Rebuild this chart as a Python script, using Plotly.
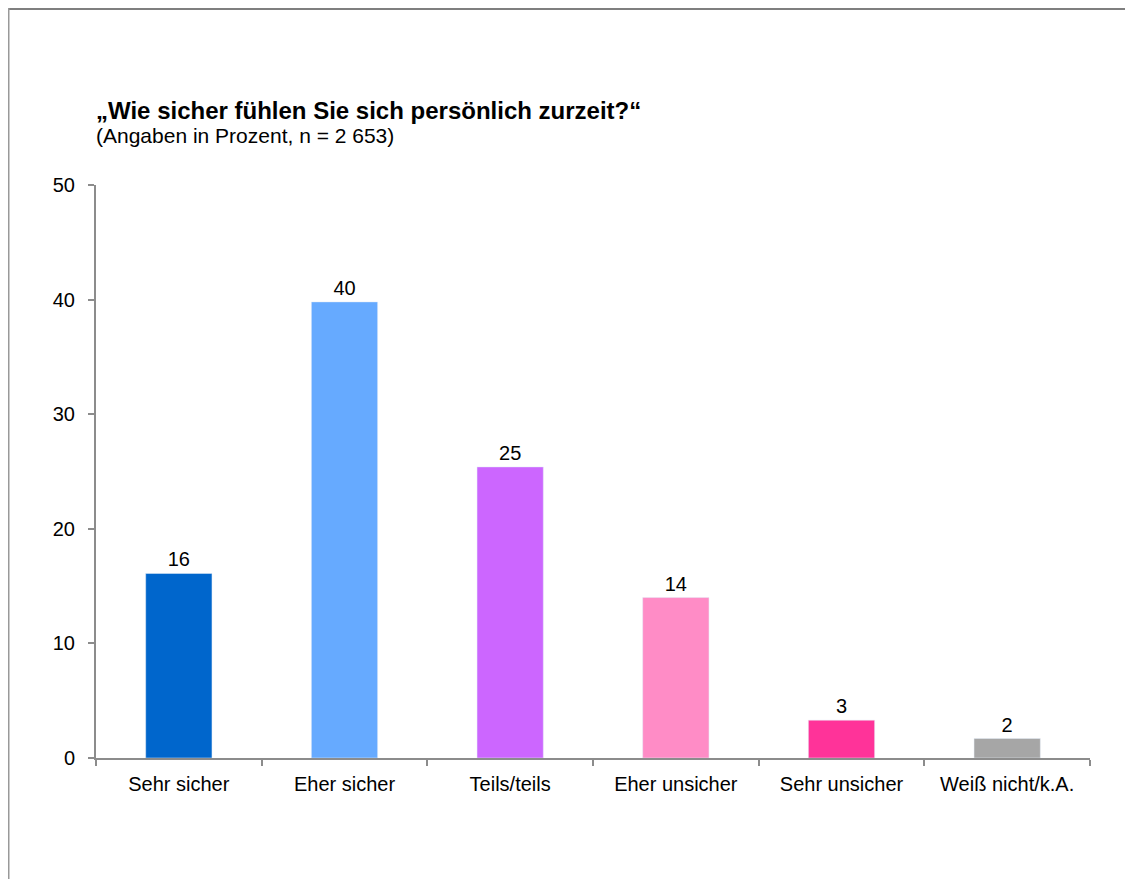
import plotly.graph_objects as go

categories = ["Sehr sicher", "Eher sicher", "Teils/teils", "Eher unsicher", "Sehr unsicher", "Weiß nicht/k.A."]
values = [16.1, 39.8, 25.4, 14.0, 3.3, 1.7]
colors = ["#0066CC", "#66AAFF", "#CC66FF", "#FF8CC6", "#FF3399", "#A6A6A6"]
y_ticks = [0, 10, 20, 30, 40, 50]

W, H = 1133, 879
L, R, T, B = 88, 51, 177, 129
pw, ph = W - L - R, H - T - B

def px(x):
    return (x - L) / pw

def py(y):
    return (H - B - y) / ph

FONT = "Liberation Sans, Arial"

fig = go.Figure(go.Bar(
    x=categories, y=values, marker_color=colors, width=0.4,
    texttemplate="%{y:.0f}", textposition="outside",
    textfont=dict(family=FONT, size=20, color="black"),
    cliponaxis=False,
))

axis_col = "#8C8C8C"
fig.update_layout(
    width=W, height=H,
    margin=dict(l=L, r=R, t=T, b=B),
    paper_bgcolor="white", plot_bgcolor="white",
    showlegend=False,
    font=dict(family=FONT, size=20, color="black"),
    xaxis=dict(
        type="category", tickson="boundaries", ticks="outside", ticklen=6,
        tickcolor=axis_col, tickwidth=1.5,
        showline=True, linecolor=axis_col, linewidth=2, showgrid=False,
        tickfont=dict(size=20), ticklabelstandoff=7,
    ),
    yaxis=dict(
        range=[0, 50], tickvals=y_ticks, ticks="outside", ticklen=6,
        tickcolor=axis_col, tickwidth=1.5,
        showline=True, linecolor=axis_col, linewidth=2, showgrid=False,
        zeroline=False, tickfont=dict(size=20), ticklabelstandoff=9,
    ),
    annotations=[
        dict(text="<b>„Wie sicher fühlen Sie sich persönlich zurzeit?“</b>",
             xref="paper", yref="paper", x=px(86), y=py(103), xanchor="left", yanchor="middle",
             showarrow=False, font=dict(size=24, color="black")),
        dict(text="(Angaben in Prozent, n = 2 653)",
             xref="paper", yref="paper", x=px(86), y=py(128), xanchor="left", yanchor="middle",
             showarrow=False, font=dict(size=21, color="black")),
    ],
    shapes=[
        dict(type="line", xref="paper", yref="paper", x0=px(0), x1=px(W + 5), y0=py(1), y1=py(1),
             line=dict(color="#555555", width=1.5)),
        dict(type="line", xref="paper", yref="paper", x0=px(0.75), x1=px(0.75), y0=py(0), y1=py(H + 5),
             line=dict(color="#999999", width=1.5)),
    ],
)

fig.write_html("out.html")
